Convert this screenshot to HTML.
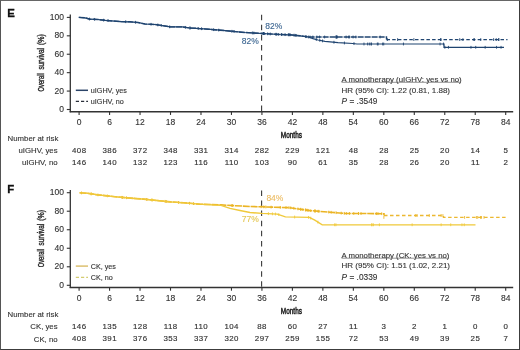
<!DOCTYPE html>
<html><head><meta charset="utf-8"><style>
html,body{margin:0;padding:0;background:#fff;}
body{width:520px;height:350px;position:relative;overflow:hidden;font-family:"Liberation Sans", sans-serif;}
</style></head><body>
<svg width="520" height="350" viewBox="0 0 520 350" style="position:absolute;left:0;top:0;will-change:transform;filter:blur(0.3px)">
<rect x="0" y="0" width="520" height="350" fill="#fff"/>
<g font-family='"Liberation Sans", sans-serif'>
<text x="7.20" y="16.60" font-size="11.4" text-anchor="start" fill="#111" font-weight="bold" stroke="#111" stroke-width="0.3">E</text>
<line x1="70.3" y1="14.60" x2="70.3" y2="112.35" stroke="#333" stroke-width="1.3"/>
<line x1="66.8" y1="109.50" x2="70.3" y2="109.50" stroke="#333" stroke-width="1.1"/>
<text x="64.00" y="111.95" font-size="8.5" text-anchor="end" fill="#333"  stroke="#333" stroke-width="0.12">0</text>
<line x1="66.8" y1="91.08" x2="70.3" y2="91.08" stroke="#333" stroke-width="1.1"/>
<text x="64.00" y="93.53" font-size="8.5" text-anchor="end" fill="#333"  stroke="#333" stroke-width="0.12">20</text>
<line x1="66.8" y1="72.66" x2="70.3" y2="72.66" stroke="#333" stroke-width="1.1"/>
<text x="64.00" y="75.11" font-size="8.5" text-anchor="end" fill="#333"  stroke="#333" stroke-width="0.12">40</text>
<line x1="66.8" y1="54.24" x2="70.3" y2="54.24" stroke="#333" stroke-width="1.1"/>
<text x="64.00" y="56.69" font-size="8.5" text-anchor="end" fill="#333"  stroke="#333" stroke-width="0.12">60</text>
<line x1="66.8" y1="35.82" x2="70.3" y2="35.82" stroke="#333" stroke-width="1.1"/>
<text x="64.00" y="38.27" font-size="8.5" text-anchor="end" fill="#333"  stroke="#333" stroke-width="0.12">80</text>
<line x1="66.8" y1="17.40" x2="70.3" y2="17.40" stroke="#333" stroke-width="1.1"/>
<text x="64.00" y="19.85" font-size="8.5" text-anchor="end" fill="#333"  stroke="#333" stroke-width="0.12">100</text>
<line x1="69.65" y1="111.75" x2="513.2" y2="111.75" stroke="#333" stroke-width="1.5"/>
<line x1="79.10" y1="111.75" x2="79.10" y2="114.95" stroke="#333" stroke-width="1.1"/>
<text x="79.10" y="125.20" font-size="8.5" text-anchor="middle" fill="#333"  stroke="#333" stroke-width="0.12">0</text>
<line x1="109.57" y1="111.75" x2="109.57" y2="114.95" stroke="#333" stroke-width="1.1"/>
<text x="109.57" y="125.20" font-size="8.5" text-anchor="middle" fill="#333"  stroke="#333" stroke-width="0.12">6</text>
<line x1="140.04" y1="111.75" x2="140.04" y2="114.95" stroke="#333" stroke-width="1.1"/>
<text x="140.04" y="125.20" font-size="8.5" text-anchor="middle" fill="#333"  stroke="#333" stroke-width="0.12">12</text>
<line x1="170.51" y1="111.75" x2="170.51" y2="114.95" stroke="#333" stroke-width="1.1"/>
<text x="170.51" y="125.20" font-size="8.5" text-anchor="middle" fill="#333"  stroke="#333" stroke-width="0.12">18</text>
<line x1="200.99" y1="111.75" x2="200.99" y2="114.95" stroke="#333" stroke-width="1.1"/>
<text x="200.99" y="125.20" font-size="8.5" text-anchor="middle" fill="#333"  stroke="#333" stroke-width="0.12">24</text>
<line x1="231.46" y1="111.75" x2="231.46" y2="114.95" stroke="#333" stroke-width="1.1"/>
<text x="231.46" y="125.20" font-size="8.5" text-anchor="middle" fill="#333"  stroke="#333" stroke-width="0.12">30</text>
<line x1="261.93" y1="111.75" x2="261.93" y2="114.95" stroke="#333" stroke-width="1.1"/>
<text x="261.93" y="125.20" font-size="8.5" text-anchor="middle" fill="#333"  stroke="#333" stroke-width="0.12">36</text>
<line x1="292.40" y1="111.75" x2="292.40" y2="114.95" stroke="#333" stroke-width="1.1"/>
<text x="292.40" y="125.20" font-size="8.5" text-anchor="middle" fill="#333"  stroke="#333" stroke-width="0.12">42</text>
<line x1="322.87" y1="111.75" x2="322.87" y2="114.95" stroke="#333" stroke-width="1.1"/>
<text x="322.87" y="125.20" font-size="8.5" text-anchor="middle" fill="#333"  stroke="#333" stroke-width="0.12">48</text>
<line x1="353.34" y1="111.75" x2="353.34" y2="114.95" stroke="#333" stroke-width="1.1"/>
<text x="353.34" y="125.20" font-size="8.5" text-anchor="middle" fill="#333"  stroke="#333" stroke-width="0.12">54</text>
<line x1="383.81" y1="111.75" x2="383.81" y2="114.95" stroke="#333" stroke-width="1.1"/>
<text x="383.81" y="125.20" font-size="8.5" text-anchor="middle" fill="#333"  stroke="#333" stroke-width="0.12">60</text>
<line x1="414.29" y1="111.75" x2="414.29" y2="114.95" stroke="#333" stroke-width="1.1"/>
<text x="414.29" y="125.20" font-size="8.5" text-anchor="middle" fill="#333"  stroke="#333" stroke-width="0.12">66</text>
<line x1="444.76" y1="111.75" x2="444.76" y2="114.95" stroke="#333" stroke-width="1.1"/>
<text x="444.76" y="125.20" font-size="8.5" text-anchor="middle" fill="#333"  stroke="#333" stroke-width="0.12">72</text>
<line x1="475.23" y1="111.75" x2="475.23" y2="114.95" stroke="#333" stroke-width="1.1"/>
<text x="475.23" y="125.20" font-size="8.5" text-anchor="middle" fill="#333"  stroke="#333" stroke-width="0.12">78</text>
<line x1="505.70" y1="111.75" x2="505.70" y2="114.95" stroke="#333" stroke-width="1.1"/>
<text x="505.70" y="125.20" font-size="8.5" text-anchor="middle" fill="#333"  stroke="#333" stroke-width="0.12">84</text>
<text transform="translate(291.4,137.70) scale(0.70,1)" font-size="9.2" text-anchor="middle" fill="#262626" stroke="#262626" stroke-width="0.55">Months</text>
<text transform="translate(44.3,82.35) rotate(-90) scale(0.63,1)" font-size="9.2" text-anchor="middle" fill="#2a2a2a" stroke="#2a2a2a" stroke-width="0.4">Overall</text>
<text transform="translate(44.3,58.80) rotate(-90) scale(0.695,1)" font-size="9.2" text-anchor="middle" fill="#2a2a2a" stroke="#2a2a2a" stroke-width="0.4">survival</text>
<text transform="translate(44.3,39.55) rotate(-90) scale(0.76,1)" font-size="9.2" text-anchor="middle" fill="#2a2a2a" stroke="#2a2a2a" stroke-width="0.4">(%)</text>
<line x1="261.6" y1="14.70" x2="261.6" y2="111.75" stroke="#3a3a3a" stroke-width="1.1" stroke-dasharray="5.5 4.6"/>
<polyline points="78.80,17.40 85.00,17.80 90.00,19.20 98.00,19.50 105.00,20.30 113.00,21.00 121.00,21.60 130.00,21.80 138.00,22.50 145.00,24.00 155.00,24.50 165.00,26.00 170.00,26.90 182.00,26.90 190.00,28.00 196.00,28.30 208.00,29.20 220.00,30.20 231.00,31.20 245.00,32.50 262.00,33.50 280.00,34.50 290.00,34.80 300.00,35.80 308.50,37.00 386.50,37.00 386.50,39.60" fill="none" stroke="#1f4470" stroke-width="1.4" stroke-dasharray="6 1" />
<path d="M103.67 18.75v2.80M125.73 20.31v2.80M161.28 24.04v2.80M169.68 25.44v2.80M198.23 27.07v2.80M218.74 28.69v2.80M234.04 30.08v2.80M262.06 32.10v2.80M263.48 32.18v2.80M263.66 32.19v2.80M263.79 32.20v2.80M267.65 32.41v2.80M275.87 32.87v2.80M288.30 33.35v2.80M289.07 33.37v2.80M305.90 35.23v2.80M308.38 35.58v2.80M310.00 35.60v2.80M312.86 35.60v2.80M316.86 35.60v2.80M319.54 35.60v2.80M324.64 35.60v2.80M336.07 35.60v2.80M336.20 35.60v2.80M336.38 35.60v2.80M336.94 35.60v2.80M337.08 35.60v2.80M346.10 35.60v2.80M348.60 35.60v2.80M349.56 35.60v2.80M353.09 35.60v2.80M355.87 35.60v2.80M380.11 35.60v2.80" stroke="#1f4470" stroke-width="0.9" fill="none"/>
<polyline points="386.50,39.60 507.50,39.60" fill="none" stroke="#1f4470" stroke-width="1.15" stroke-dasharray="3.5 2.2" />
<path d="M387.35 38.20v2.80M397.61 38.20v2.80M413.87 38.20v2.80M440.57 38.20v2.80M440.99 38.20v2.80M459.74 38.20v2.80M462.92 38.20v2.80M474.00 38.20v2.80M474.23 38.20v2.80M480.74 38.20v2.80M493.62 38.20v2.80M496.23 38.20v2.80M498.69 38.20v2.80M498.80 38.20v2.80" stroke="#1f4470" stroke-width="0.9" fill="none"/>
<polyline points="78.80,17.40 85.00,17.80 90.00,19.20 98.00,19.50 105.00,20.30 113.00,21.00 121.00,21.60 130.00,21.80 138.00,22.50 145.00,24.00 155.00,24.50 165.00,26.00 170.00,26.90 182.00,26.90 190.00,28.00 196.00,28.30 208.00,29.20 220.00,30.20 231.00,31.20 245.00,32.50 262.00,33.50 280.00,34.50 290.00,34.80 300.00,35.80 308.50,37.00 313.00,38.60 318.00,40.00 325.00,41.40 338.00,42.60 352.90,43.50 357.00,44.00 444.00,44.00 444.00,47.30 504.00,47.30" fill="none" stroke="#1f4470" stroke-width="1.2" />
<path d="M89.44 17.64v2.80M94.62 17.97v2.80M108.06 19.17v2.80M135.44 20.88v2.80M151.05 22.90v2.80M157.84 23.53v2.80M185.36 25.96v2.80M189.88 26.58v2.80M190.04 26.60v2.80M201.55 27.32v2.80M213.66 28.27v2.80M231.85 29.88v2.80M252.39 31.53v2.80M253.89 31.62v2.80M263.38 32.18v2.80M263.60 32.19v2.80M264.12 32.22v2.80M270.26 32.56v2.80M276.32 32.90v2.80M278.28 33.00v2.80M281.34 33.14v2.80M281.74 33.15v2.80M285.09 33.25v2.80M289.04 33.37v2.80M290.26 33.43v2.80M293.97 33.80v2.80M295.09 33.91v2.80M296.09 34.01v2.80M305.99 35.25v2.80M316.28 38.12v2.80M319.79 38.96v2.80M322.56 39.51v2.80M333.95 40.83v2.80M344.43 41.59v2.80M353.97 42.23v2.80M363.98 42.60v2.80M367.63 42.60v2.80M369.36 42.60v2.80M371.00 42.60v2.80M371.43 42.60v2.80M377.33 42.60v2.80M378.12 42.60v2.80M382.65 42.60v2.80M383.73 42.60v2.80M403.46 42.60v2.80M440.05 42.60v2.80M443.54 42.60v2.80M444.86 45.90v2.80M448.46 45.90v2.80M470.98 45.90v2.80M475.72 45.90v2.80M485.17 45.90v2.80M496.54 45.90v2.80M501.06 45.90v2.80" stroke="#1f4470" stroke-width="0.9" fill="none"/>
<text x="265.20" y="29.10" font-size="8.5" text-anchor="start" fill="#3b6591"  stroke="#3b6591" stroke-width="0.12">82%</text>
<text x="258.70" y="44.20" font-size="8.5" text-anchor="end" fill="#3b6591"  stroke="#3b6591" stroke-width="0.12">82%</text>
<line x1="75.8" y1="90.30" x2="88.0" y2="90.30" stroke="#2b4468" stroke-width="1.5"/>
<line x1="75.8" y1="101.30" x2="88.0" y2="101.30" stroke="#2a2f3a" stroke-width="1.3" stroke-dasharray="3.2 2"/>
<text x="90.80" y="92.90" font-size="7.2" text-anchor="start" fill="#333"  stroke="#333" stroke-width="0.12">uIGHV, yes</text>
<text x="90.80" y="103.90" font-size="7.2" text-anchor="start" fill="#333"  stroke="#333" stroke-width="0.12">uIGHV, no</text>
<text x="341.50" y="81.80" font-size="7.8" text-anchor="start" fill="#333"  stroke="#333" stroke-width="0.12">A monotherapy (uIGHV: yes vs no)</text>
<line x1="341.5" y1="82.30" x2="461.00" y2="82.30" stroke="#666" stroke-width="0.7"/>
<text x="341.50" y="92.95" font-size="8.0" text-anchor="start" fill="#333"  stroke="#333" stroke-width="0.12">HR (95% CI): 1.22 (0.81, 1.88)</text>
<text x="341.60" y="104.05" font-size="8.3" text-anchor="start" fill="#333"  stroke="#333" stroke-width="0.12"><tspan font-style="italic">P</tspan> = .3549</text>
<text x="7.60" y="141.20" font-size="7.8" text-anchor="start" fill="#333"  stroke="#333" stroke-width="0.12">Number at risk</text>
<text x="57.60" y="153.40" font-size="7.8" text-anchor="end" fill="#333"  stroke="#333" stroke-width="0.12">uIGHV, yes</text>
<text x="57.60" y="165.40" font-size="7.8" text-anchor="end" fill="#333"  stroke="#333" stroke-width="0.12">uIGHV, no</text>
<text x="79.30" y="153.00" font-size="7.9" text-anchor="middle" fill="#333" letter-spacing="0.45" stroke="#333" stroke-width="0.15">408</text>
<text x="79.30" y="164.70" font-size="7.9" text-anchor="middle" fill="#333" letter-spacing="0.45" stroke="#333" stroke-width="0.15">146</text>
<text x="109.77" y="153.00" font-size="7.9" text-anchor="middle" fill="#333" letter-spacing="0.45" stroke="#333" stroke-width="0.15">386</text>
<text x="109.77" y="164.70" font-size="7.9" text-anchor="middle" fill="#333" letter-spacing="0.45" stroke="#333" stroke-width="0.15">140</text>
<text x="140.24" y="153.00" font-size="7.9" text-anchor="middle" fill="#333" letter-spacing="0.45" stroke="#333" stroke-width="0.15">372</text>
<text x="140.24" y="164.70" font-size="7.9" text-anchor="middle" fill="#333" letter-spacing="0.45" stroke="#333" stroke-width="0.15">132</text>
<text x="170.71" y="153.00" font-size="7.9" text-anchor="middle" fill="#333" letter-spacing="0.45" stroke="#333" stroke-width="0.15">348</text>
<text x="170.71" y="164.70" font-size="7.9" text-anchor="middle" fill="#333" letter-spacing="0.45" stroke="#333" stroke-width="0.15">123</text>
<text x="201.19" y="153.00" font-size="7.9" text-anchor="middle" fill="#333" letter-spacing="0.45" stroke="#333" stroke-width="0.15">331</text>
<text x="201.19" y="164.70" font-size="7.9" text-anchor="middle" fill="#333" letter-spacing="0.45" stroke="#333" stroke-width="0.15">116</text>
<text x="231.66" y="153.00" font-size="7.9" text-anchor="middle" fill="#333" letter-spacing="0.45" stroke="#333" stroke-width="0.15">314</text>
<text x="231.66" y="164.70" font-size="7.9" text-anchor="middle" fill="#333" letter-spacing="0.45" stroke="#333" stroke-width="0.15">110</text>
<text x="262.13" y="153.00" font-size="7.9" text-anchor="middle" fill="#333" letter-spacing="0.45" stroke="#333" stroke-width="0.15">282</text>
<text x="262.13" y="164.70" font-size="7.9" text-anchor="middle" fill="#333" letter-spacing="0.45" stroke="#333" stroke-width="0.15">103</text>
<text x="292.60" y="153.00" font-size="7.9" text-anchor="middle" fill="#333" letter-spacing="0.45" stroke="#333" stroke-width="0.15">229</text>
<text x="292.60" y="164.70" font-size="7.9" text-anchor="middle" fill="#333" letter-spacing="0.45" stroke="#333" stroke-width="0.15">90</text>
<text x="323.07" y="153.00" font-size="7.9" text-anchor="middle" fill="#333" letter-spacing="0.45" stroke="#333" stroke-width="0.15">121</text>
<text x="323.07" y="164.70" font-size="7.9" text-anchor="middle" fill="#333" letter-spacing="0.45" stroke="#333" stroke-width="0.15">61</text>
<text x="353.54" y="153.00" font-size="7.9" text-anchor="middle" fill="#333" letter-spacing="0.45" stroke="#333" stroke-width="0.15">48</text>
<text x="353.54" y="164.70" font-size="7.9" text-anchor="middle" fill="#333" letter-spacing="0.45" stroke="#333" stroke-width="0.15">35</text>
<text x="384.01" y="153.00" font-size="7.9" text-anchor="middle" fill="#333" letter-spacing="0.45" stroke="#333" stroke-width="0.15">28</text>
<text x="384.01" y="164.70" font-size="7.9" text-anchor="middle" fill="#333" letter-spacing="0.45" stroke="#333" stroke-width="0.15">28</text>
<text x="414.49" y="153.00" font-size="7.9" text-anchor="middle" fill="#333" letter-spacing="0.45" stroke="#333" stroke-width="0.15">25</text>
<text x="414.49" y="164.70" font-size="7.9" text-anchor="middle" fill="#333" letter-spacing="0.45" stroke="#333" stroke-width="0.15">26</text>
<text x="444.96" y="153.00" font-size="7.9" text-anchor="middle" fill="#333" letter-spacing="0.45" stroke="#333" stroke-width="0.15">20</text>
<text x="444.96" y="164.70" font-size="7.9" text-anchor="middle" fill="#333" letter-spacing="0.45" stroke="#333" stroke-width="0.15">20</text>
<text x="475.43" y="153.00" font-size="7.9" text-anchor="middle" fill="#333" letter-spacing="0.45" stroke="#333" stroke-width="0.15">14</text>
<text x="475.43" y="164.70" font-size="7.9" text-anchor="middle" fill="#333" letter-spacing="0.45" stroke="#333" stroke-width="0.15">11</text>
<text x="505.90" y="153.00" font-size="7.9" text-anchor="middle" fill="#333" letter-spacing="0.45" stroke="#333" stroke-width="0.15">5</text>
<text x="505.90" y="164.70" font-size="7.9" text-anchor="middle" fill="#333" letter-spacing="0.45" stroke="#333" stroke-width="0.15">2</text>
<text x="7.20" y="192.90" font-size="11.4" text-anchor="start" fill="#111" font-weight="bold" stroke="#111" stroke-width="0.3">F</text>
<line x1="70.3" y1="189.90" x2="70.3" y2="288.10" stroke="#333" stroke-width="1.3"/>
<line x1="66.8" y1="285.30" x2="70.3" y2="285.30" stroke="#333" stroke-width="1.1"/>
<text x="64.00" y="287.75" font-size="8.5" text-anchor="end" fill="#333"  stroke="#333" stroke-width="0.12">0</text>
<line x1="66.8" y1="266.78" x2="70.3" y2="266.78" stroke="#333" stroke-width="1.1"/>
<text x="64.00" y="269.23" font-size="8.5" text-anchor="end" fill="#333"  stroke="#333" stroke-width="0.12">20</text>
<line x1="66.8" y1="248.26" x2="70.3" y2="248.26" stroke="#333" stroke-width="1.1"/>
<text x="64.00" y="250.71" font-size="8.5" text-anchor="end" fill="#333"  stroke="#333" stroke-width="0.12">40</text>
<line x1="66.8" y1="229.74" x2="70.3" y2="229.74" stroke="#333" stroke-width="1.1"/>
<text x="64.00" y="232.19" font-size="8.5" text-anchor="end" fill="#333"  stroke="#333" stroke-width="0.12">60</text>
<line x1="66.8" y1="211.22" x2="70.3" y2="211.22" stroke="#333" stroke-width="1.1"/>
<text x="64.00" y="213.67" font-size="8.5" text-anchor="end" fill="#333"  stroke="#333" stroke-width="0.12">80</text>
<line x1="66.8" y1="192.70" x2="70.3" y2="192.70" stroke="#333" stroke-width="1.1"/>
<text x="64.00" y="195.15" font-size="8.5" text-anchor="end" fill="#333"  stroke="#333" stroke-width="0.12">100</text>
<line x1="69.65" y1="287.50" x2="513.2" y2="287.50" stroke="#333" stroke-width="1.5"/>
<line x1="79.10" y1="287.50" x2="79.10" y2="290.70" stroke="#333" stroke-width="1.1"/>
<text x="79.10" y="301.20" font-size="8.5" text-anchor="middle" fill="#333"  stroke="#333" stroke-width="0.12">0</text>
<line x1="109.57" y1="287.50" x2="109.57" y2="290.70" stroke="#333" stroke-width="1.1"/>
<text x="109.57" y="301.20" font-size="8.5" text-anchor="middle" fill="#333"  stroke="#333" stroke-width="0.12">6</text>
<line x1="140.04" y1="287.50" x2="140.04" y2="290.70" stroke="#333" stroke-width="1.1"/>
<text x="140.04" y="301.20" font-size="8.5" text-anchor="middle" fill="#333"  stroke="#333" stroke-width="0.12">12</text>
<line x1="170.51" y1="287.50" x2="170.51" y2="290.70" stroke="#333" stroke-width="1.1"/>
<text x="170.51" y="301.20" font-size="8.5" text-anchor="middle" fill="#333"  stroke="#333" stroke-width="0.12">18</text>
<line x1="200.99" y1="287.50" x2="200.99" y2="290.70" stroke="#333" stroke-width="1.1"/>
<text x="200.99" y="301.20" font-size="8.5" text-anchor="middle" fill="#333"  stroke="#333" stroke-width="0.12">24</text>
<line x1="231.46" y1="287.50" x2="231.46" y2="290.70" stroke="#333" stroke-width="1.1"/>
<text x="231.46" y="301.20" font-size="8.5" text-anchor="middle" fill="#333"  stroke="#333" stroke-width="0.12">30</text>
<line x1="261.93" y1="287.50" x2="261.93" y2="290.70" stroke="#333" stroke-width="1.1"/>
<text x="261.93" y="301.20" font-size="8.5" text-anchor="middle" fill="#333"  stroke="#333" stroke-width="0.12">36</text>
<line x1="292.40" y1="287.50" x2="292.40" y2="290.70" stroke="#333" stroke-width="1.1"/>
<text x="292.40" y="301.20" font-size="8.5" text-anchor="middle" fill="#333"  stroke="#333" stroke-width="0.12">42</text>
<line x1="322.87" y1="287.50" x2="322.87" y2="290.70" stroke="#333" stroke-width="1.1"/>
<text x="322.87" y="301.20" font-size="8.5" text-anchor="middle" fill="#333"  stroke="#333" stroke-width="0.12">48</text>
<line x1="353.34" y1="287.50" x2="353.34" y2="290.70" stroke="#333" stroke-width="1.1"/>
<text x="353.34" y="301.20" font-size="8.5" text-anchor="middle" fill="#333"  stroke="#333" stroke-width="0.12">54</text>
<line x1="383.81" y1="287.50" x2="383.81" y2="290.70" stroke="#333" stroke-width="1.1"/>
<text x="383.81" y="301.20" font-size="8.5" text-anchor="middle" fill="#333"  stroke="#333" stroke-width="0.12">60</text>
<line x1="414.29" y1="287.50" x2="414.29" y2="290.70" stroke="#333" stroke-width="1.1"/>
<text x="414.29" y="301.20" font-size="8.5" text-anchor="middle" fill="#333"  stroke="#333" stroke-width="0.12">66</text>
<line x1="444.76" y1="287.50" x2="444.76" y2="290.70" stroke="#333" stroke-width="1.1"/>
<text x="444.76" y="301.20" font-size="8.5" text-anchor="middle" fill="#333"  stroke="#333" stroke-width="0.12">72</text>
<line x1="475.23" y1="287.50" x2="475.23" y2="290.70" stroke="#333" stroke-width="1.1"/>
<text x="475.23" y="301.20" font-size="8.5" text-anchor="middle" fill="#333"  stroke="#333" stroke-width="0.12">78</text>
<line x1="505.70" y1="287.50" x2="505.70" y2="290.70" stroke="#333" stroke-width="1.1"/>
<text x="505.70" y="301.20" font-size="8.5" text-anchor="middle" fill="#333"  stroke="#333" stroke-width="0.12">84</text>
<text transform="translate(291.4,313.70) scale(0.70,1)" font-size="9.2" text-anchor="middle" fill="#262626" stroke="#262626" stroke-width="0.55">Months</text>
<text transform="translate(44.3,258.15) rotate(-90) scale(0.63,1)" font-size="9.2" text-anchor="middle" fill="#2a2a2a" stroke="#2a2a2a" stroke-width="0.4">Overall</text>
<text transform="translate(44.3,234.60) rotate(-90) scale(0.695,1)" font-size="9.2" text-anchor="middle" fill="#2a2a2a" stroke="#2a2a2a" stroke-width="0.4">survival</text>
<text transform="translate(44.3,215.35) rotate(-90) scale(0.76,1)" font-size="9.2" text-anchor="middle" fill="#2a2a2a" stroke="#2a2a2a" stroke-width="0.4">(%)</text>
<line x1="261.6" y1="190.40" x2="261.6" y2="287.50" stroke="#3a3a3a" stroke-width="1.1" stroke-dasharray="5.5 4.6"/>
<polyline points="79.60,192.80 86.50,193.20 92.30,194.00 98.00,194.90 109.60,196.10 121.20,197.30 135.00,198.50 143.50,199.10 157.00,200.50 170.40,201.90 183.80,202.80 190.00,203.30 200.00,204.20 221.00,204.90 235.00,205.70 250.00,206.50 262.00,206.80 290.00,207.70 300.00,209.20 310.00,210.60 330.00,212.20 345.00,213.40 384.00,213.70 384.00,215.50" fill="none" stroke="#ebb424" stroke-width="1.6" stroke-dasharray="7 0.8" />
<path d="M81.51 191.51v2.80M91.08 192.43v2.80M121.94 195.96v2.80M122.61 196.02v2.80M126.52 196.36v2.80M146.74 198.04v2.80M165.08 199.94v2.80M166.19 200.06v2.80M178.60 201.05v2.80M189.51 201.86v2.80M193.50 202.21v2.80M232.03 204.13v2.80M232.21 204.14v2.80M261.13 205.38v2.80M263.82 205.46v2.80M265.83 205.52v2.80M271.11 205.69v2.80M280.29 205.99v2.80M286.00 206.17v2.80M289.03 206.27v2.80M290.74 206.41v2.80M293.81 206.87v2.80M297.95 207.49v2.80M300.62 207.89v2.80M300.88 207.92v2.80M302.85 208.20v2.80M305.45 208.56v2.80M305.74 208.60v2.80M307.10 208.79v2.80M308.14 208.94v2.80M310.74 209.26v2.80M314.68 209.57v2.80M314.83 209.59v2.80M315.49 209.64v2.80M318.06 209.85v2.80M318.95 209.92v2.80M328.81 210.70v2.80M331.16 210.89v2.80M336.10 211.29v2.80M341.22 211.70v2.80M344.26 211.94v2.80M346.39 212.01v2.80M349.45 212.03v2.80M353.78 212.07v2.80M358.48 212.10v2.80M358.53 212.10v2.80M361.06 212.12v2.80M376.43 212.24v2.80M377.98 212.25v2.80M381.71 212.28v2.80" stroke="#ebb424" stroke-width="0.9" fill="none"/>
<polyline points="384.00,215.50 443.50,215.50 443.50,217.40 507.50,217.40" fill="none" stroke="#ecb830" stroke-width="1.4" stroke-dasharray="3.5 2.5" />
<path d="M383.87 216.00v2.80M415.70 214.10v2.80M417.05 214.10v2.80M429.30 214.10v2.80M441.13 214.10v2.80M442.93 214.10v2.80M464.60 216.00v2.80M476.41 216.00v2.80M477.68 216.00v2.80M480.51 216.00v2.80M481.56 216.00v2.80M484.00 216.00v2.80" stroke="#ecb830" stroke-width="0.9" fill="none"/>
<polyline points="79.60,192.80 86.50,193.20 92.30,194.00 98.00,194.90 109.60,196.10 121.20,197.30 135.00,198.50 143.50,199.10 157.00,200.50 170.40,201.90 183.80,202.80 190.00,203.30 200.00,204.20 221.00,205.30 230.00,208.40 240.00,210.50 250.00,212.50 262.00,213.40 277.30,214.10 285.40,216.80 309.40,217.40 314.80,220.20 322.20,224.80 475.50,224.80" fill="none" stroke="#f0c93a" stroke-width="1.35" />
<path d="M91.26 192.46v2.80M97.96 193.49v2.80M107.43 194.48v2.80M122.26 195.99v2.80M151.51 198.53v2.80M152.52 198.64v2.80M268.40 212.29v2.80M272.45 212.48v2.80M275.45 212.62v2.80M278.79 213.20v2.80M294.64 215.63v2.80M308.56 215.98v2.80M310.71 216.68v2.80M317.87 220.71v2.80M334.66 223.40v2.80M335.94 223.40v2.80M371.65 223.40v2.80M372.03 223.40v2.80M373.39 223.40v2.80M379.39 223.40v2.80M412.14 223.40v2.80M441.13 223.40v2.80M450.72 223.40v2.80M461.94 223.40v2.80M464.26 223.40v2.80" stroke="#f0c93a" stroke-width="0.9" fill="none"/>
<text x="266.40" y="200.80" font-size="8.5" text-anchor="start" fill="#ecbc62"  stroke="#ecbc62" stroke-width="0.12">84%</text>
<text x="258.70" y="222.40" font-size="8.5" text-anchor="end" fill="#e4c752"  stroke="#e4c752" stroke-width="0.12">77%</text>
<line x1="75.8" y1="266.10" x2="88.0" y2="266.10" stroke="#dcc070" stroke-width="1.5"/>
<line x1="75.8" y1="277.30" x2="88.0" y2="277.30" stroke="#d4cc70" stroke-width="1.3" stroke-dasharray="3.2 2"/>
<text x="90.80" y="268.70" font-size="7.2" text-anchor="start" fill="#333"  stroke="#333" stroke-width="0.12">CK, yes</text>
<text x="90.80" y="279.90" font-size="7.2" text-anchor="start" fill="#333"  stroke="#333" stroke-width="0.12">CK, no</text>
<text x="341.50" y="257.70" font-size="7.8" text-anchor="start" fill="#333"  stroke="#333" stroke-width="0.12">A monotherapy (CK: yes vs no)</text>
<line x1="341.5" y1="258.20" x2="448.50" y2="258.20" stroke="#666" stroke-width="0.7"/>
<text x="341.50" y="268.25" font-size="8.0" text-anchor="start" fill="#333"  stroke="#333" stroke-width="0.12">HR (95% CI): 1.51 (1.02, 2.21)</text>
<text x="341.60" y="279.95" font-size="8.3" text-anchor="start" fill="#333"  stroke="#333" stroke-width="0.12"><tspan font-style="italic">P</tspan> = .0339</text>
<text x="7.60" y="316.95" font-size="7.8" text-anchor="start" fill="#333"  stroke="#333" stroke-width="0.12">Number at risk</text>
<text x="57.60" y="329.10" font-size="7.8" text-anchor="end" fill="#333"  stroke="#333" stroke-width="0.12">CK, yes</text>
<text x="57.60" y="341.50" font-size="7.8" text-anchor="end" fill="#333"  stroke="#333" stroke-width="0.12">CK, no</text>
<text x="79.30" y="328.70" font-size="7.9" text-anchor="middle" fill="#333" letter-spacing="0.45" stroke="#333" stroke-width="0.15">146</text>
<text x="79.30" y="340.80" font-size="7.9" text-anchor="middle" fill="#333" letter-spacing="0.45" stroke="#333" stroke-width="0.15">408</text>
<text x="109.77" y="328.70" font-size="7.9" text-anchor="middle" fill="#333" letter-spacing="0.45" stroke="#333" stroke-width="0.15">135</text>
<text x="109.77" y="340.80" font-size="7.9" text-anchor="middle" fill="#333" letter-spacing="0.45" stroke="#333" stroke-width="0.15">391</text>
<text x="140.24" y="328.70" font-size="7.9" text-anchor="middle" fill="#333" letter-spacing="0.45" stroke="#333" stroke-width="0.15">128</text>
<text x="140.24" y="340.80" font-size="7.9" text-anchor="middle" fill="#333" letter-spacing="0.45" stroke="#333" stroke-width="0.15">376</text>
<text x="170.71" y="328.70" font-size="7.9" text-anchor="middle" fill="#333" letter-spacing="0.45" stroke="#333" stroke-width="0.15">118</text>
<text x="170.71" y="340.80" font-size="7.9" text-anchor="middle" fill="#333" letter-spacing="0.45" stroke="#333" stroke-width="0.15">353</text>
<text x="201.19" y="328.70" font-size="7.9" text-anchor="middle" fill="#333" letter-spacing="0.45" stroke="#333" stroke-width="0.15">110</text>
<text x="201.19" y="340.80" font-size="7.9" text-anchor="middle" fill="#333" letter-spacing="0.45" stroke="#333" stroke-width="0.15">337</text>
<text x="231.66" y="328.70" font-size="7.9" text-anchor="middle" fill="#333" letter-spacing="0.45" stroke="#333" stroke-width="0.15">104</text>
<text x="231.66" y="340.80" font-size="7.9" text-anchor="middle" fill="#333" letter-spacing="0.45" stroke="#333" stroke-width="0.15">320</text>
<text x="262.13" y="328.70" font-size="7.9" text-anchor="middle" fill="#333" letter-spacing="0.45" stroke="#333" stroke-width="0.15">88</text>
<text x="262.13" y="340.80" font-size="7.9" text-anchor="middle" fill="#333" letter-spacing="0.45" stroke="#333" stroke-width="0.15">297</text>
<text x="292.60" y="328.70" font-size="7.9" text-anchor="middle" fill="#333" letter-spacing="0.45" stroke="#333" stroke-width="0.15">60</text>
<text x="292.60" y="340.80" font-size="7.9" text-anchor="middle" fill="#333" letter-spacing="0.45" stroke="#333" stroke-width="0.15">259</text>
<text x="323.07" y="328.70" font-size="7.9" text-anchor="middle" fill="#333" letter-spacing="0.45" stroke="#333" stroke-width="0.15">27</text>
<text x="323.07" y="340.80" font-size="7.9" text-anchor="middle" fill="#333" letter-spacing="0.45" stroke="#333" stroke-width="0.15">155</text>
<text x="353.54" y="328.70" font-size="7.9" text-anchor="middle" fill="#333" letter-spacing="0.45" stroke="#333" stroke-width="0.15">11</text>
<text x="353.54" y="340.80" font-size="7.9" text-anchor="middle" fill="#333" letter-spacing="0.45" stroke="#333" stroke-width="0.15">72</text>
<text x="384.01" y="328.70" font-size="7.9" text-anchor="middle" fill="#333" letter-spacing="0.45" stroke="#333" stroke-width="0.15">3</text>
<text x="384.01" y="340.80" font-size="7.9" text-anchor="middle" fill="#333" letter-spacing="0.45" stroke="#333" stroke-width="0.15">53</text>
<text x="414.49" y="328.70" font-size="7.9" text-anchor="middle" fill="#333" letter-spacing="0.45" stroke="#333" stroke-width="0.15">2</text>
<text x="414.49" y="340.80" font-size="7.9" text-anchor="middle" fill="#333" letter-spacing="0.45" stroke="#333" stroke-width="0.15">49</text>
<text x="444.96" y="328.70" font-size="7.9" text-anchor="middle" fill="#333" letter-spacing="0.45" stroke="#333" stroke-width="0.15">1</text>
<text x="444.96" y="340.80" font-size="7.9" text-anchor="middle" fill="#333" letter-spacing="0.45" stroke="#333" stroke-width="0.15">39</text>
<text x="475.43" y="328.70" font-size="7.9" text-anchor="middle" fill="#333" letter-spacing="0.45" stroke="#333" stroke-width="0.15">0</text>
<text x="475.43" y="340.80" font-size="7.9" text-anchor="middle" fill="#333" letter-spacing="0.45" stroke="#333" stroke-width="0.15">25</text>
<text x="505.90" y="328.70" font-size="7.9" text-anchor="middle" fill="#333" letter-spacing="0.45" stroke="#333" stroke-width="0.15">0</text>
<text x="505.90" y="340.80" font-size="7.9" text-anchor="middle" fill="#333" letter-spacing="0.45" stroke="#333" stroke-width="0.15">7</text>
</g>
</svg>
<div style="position:absolute;left:0;top:0;width:520px;height:350px;box-sizing:border-box;border-style:solid;border-width:1px;border-color:#666 #3c3c3c #3c3c3c #555;"></div>
</body></html>
